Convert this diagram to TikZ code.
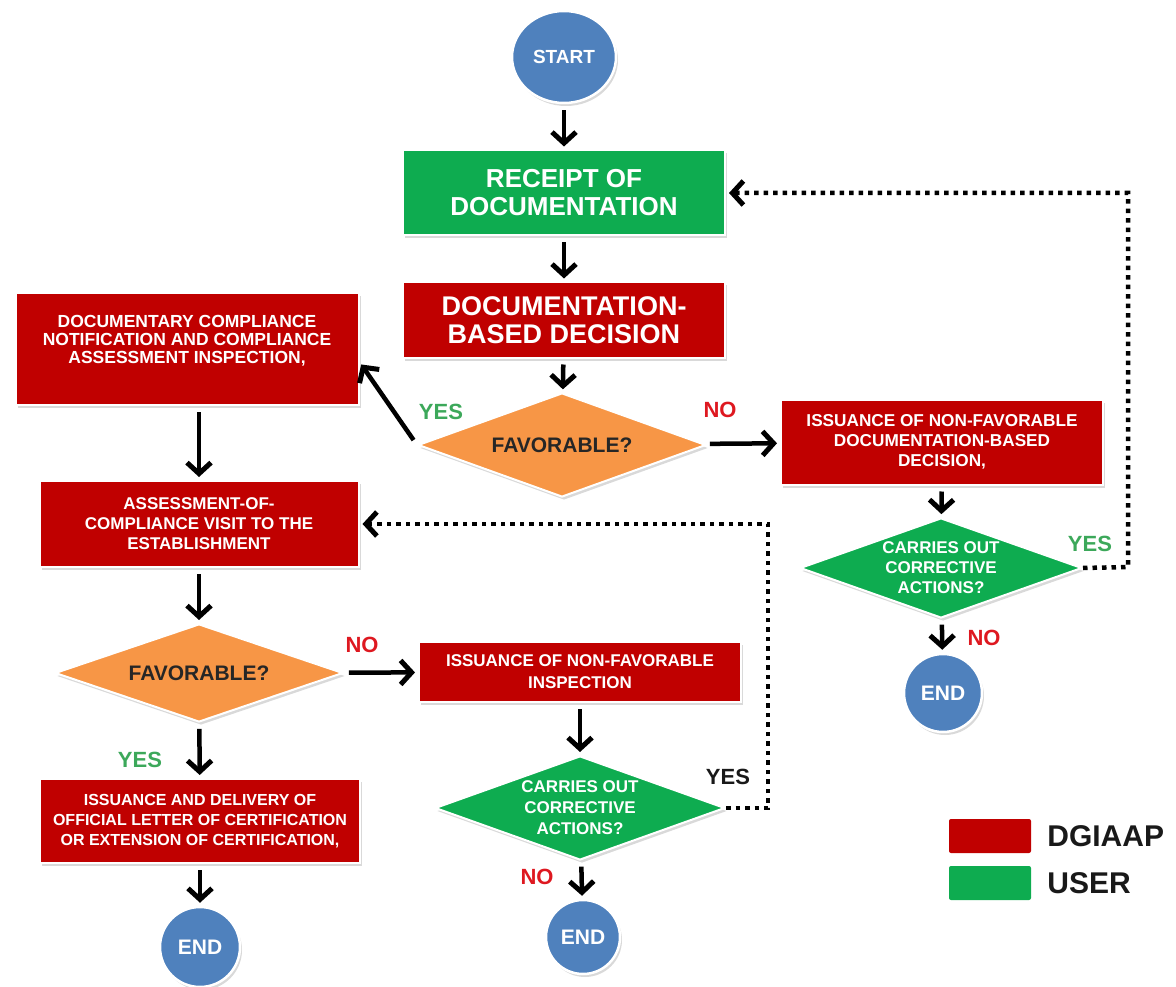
\documentclass[tikz,border=0pt]{standalone}
\usepackage{fontspec}
\setmainfont{Liberation Sans}
\usetikzlibrary{positioning, shapes, shadows, arrows.meta}
\definecolor{dgred}{RGB}{192,0,0}
\definecolor{usergreen}{RGB}{14,172,80}
\definecolor{askorange}{RGB}{247,150,70}
\definecolor{termblue}{RGB}{79,129,189}
\definecolor{yesgreen}{RGB}{60,168,90}
\definecolor{nored}{RGB}{222,24,32}
\newcommand{\txtsize}[2]{\fontsize{#1}{#2}\selectfont\bfseries}
\tikzset{proc/.style={rectangle,fill=dgred,draw=white,line width=2pt,text=white,align=center,inner sep=2pt,
    drop shadow={shadow xshift=2pt,shadow yshift=-3pt,opacity=.3}},
  userproc/.style={proc,fill=usergreen},
  ask/.style={diamond,aspect=2.9,inner sep=0pt,draw=white,line width=2pt,align=center,
    drop shadow={shadow xshift=2pt,shadow yshift=-3pt,opacity=.3}},
  term/.style={ellipse,fill=termblue,draw=white,line width=2.5pt,text=white,inner sep=0pt,
    drop shadow={shadow xshift=2pt,shadow yshift=-3pt,opacity=.3}},
  flow/.style={->,line width=4.5pt,shorten <=6pt,shorten >=3pt},
  back/.style={->,line width=4.5pt,dash pattern=on 4.5pt off 5pt,shorten >=3pt},
  yeslbl/.style={text=yesgreen,font=\txtsize{22}{24}},
  nolbl/.style={text=nored,font=\txtsize{22}{24}},
  legbox/.style={rectangle,rounded corners=2pt,minimum width=82pt,minimum height=34pt,inner sep=0pt}}

\begin{document}
\begin{tikzpicture}[x=1pt,y=-1pt,>={Straight Barb[length=11pt,width=24pt,line width=5pt]}]
		\useasboundingbox (0,0) rectangle (1176,987);
		% Main column
		\node[term, minimum width=104pt, minimum height=92pt, font=\txtsize{19}{22}] (start) at (564,57) {START};
		\node[userproc, minimum width=322pt, minimum height=85pt, font=\txtsize{26}{28}] (receipt) at (564,193) {RECEIPT OF\\DOCUMENTATION};
		\node[proc, minimum width=322pt, minimum height=75pt, font=\txtsize{27}{28}] (docdec) at (564,320) {DOCUMENTATION-\\BASED DECISION};
		\node[ask, fill=askorange, minimum width=288pt, minimum height=104pt, text={black!85}, font=\txtsize{21}{22}] (fav1) at (562,445) {FAVORABLE?};
		% Right branch
		\node[proc, minimum width=322pt, minimum height=85pt, font=\txtsize{17.2}{20}] (nfdoc) at (942,442) {ISSUANCE OF NON-FAVORABLE\\DOCUMENTATION-BASED\\DECISION,};
		\node[ask, fill=usergreen, minimum width=282pt, minimum height=100pt, text=white, font=\txtsize{17}{20}] (carry1) at (941,568) {CARRIES OUT\\CORRECTIVE\\ACTIONS?};
		\node[term, minimum size=78pt, font=\txtsize{21}{22}] (end1) at (943,693) {END};
		% Left column
		\node[proc, minimum width=343pt, minimum height=112pt, font=\txtsize{17.5}{18}] (dcn) at (187,349) {DOCUMENTARY COMPLIANCE\\NOTIFICATION AND COMPLIANCE\\ASSESSMENT INSPECTION,\\[2pt]\mbox{}};
		\node[proc, minimum width=319pt, minimum height=86pt, font=\txtsize{17}{20}] (visit) at (199,524) {ASSESSMENT-OF-\\COMPLIANCE VISIT TO THE\\ESTABLISHMENT};
		\node[ask, fill=askorange, minimum width=288pt, minimum height=98pt, text={black!85}, font=\txtsize{21}{22}] (fav2) at (199,673) {FAVORABLE?};
		\node[proc, minimum width=320pt, minimum height=84pt, font=\txtsize{16}{20}] (cert) at (200,821) {ISSUANCE AND DELIVERY OF\\OFFICIAL LETTER OF CERTIFICATION\\OR EXTENSION OF CERTIFICATION,};
		\node[term, minimum size=80pt, font=\txtsize{21}{22}] (end3) at (200,947) {END};
		% Middle branch
		\node[proc, minimum width=322pt, minimum height=60pt, font=\txtsize{17}{22}] (nfinsp) at (580,672) {ISSUANCE OF NON-FAVORABLE\\INSPECTION};
		\node[ask, fill=usergreen, minimum width=290pt, minimum height=104pt, text=white, font=\txtsize{17}{21}] (carry2) at (580,808) {CARRIES OUT\\CORRECTIVE\\ACTIONS?};
		\node[term, minimum size=74pt, font=\txtsize{21}{22}] (end2) at (583,937) {END};
		% Loop corners
		\coordinate (c1) at (1128,567);
		\coordinate (c2) at (768,808);
		% Connectors
		\draw[flow] (start) -- (receipt);
		\draw[flow] (receipt) -- (docdec);
		\draw[flow] (docdec) -- (fav1);
		\draw[flow] (fav1.west) -- ([yshift=-13pt]dcn.east);
		\draw[flow] (fav1) -- (nfdoc);
		\draw[flow] (nfdoc) -- (carry1);
		\draw[flow] (carry1) -- (end1);
		\draw[back] (carry1.east) -- (c1) |- (receipt.east);
		\draw[flow] (dcn.south -| visit.north) -- (visit.north);
		\draw[flow] (visit) -- (fav2);
		\draw[flow] (fav2) -- (nfinsp);
		\draw[flow] (fav2) -- (cert);
		\draw[flow] (cert) -- (end3);
		\draw[flow] (nfinsp) -- (carry2);
		\draw[flow] (carry2) -- (end2);
		\draw[back] (carry2.east) -- (c2) |- (visit.east);
		% Answers
		\node[yeslbl] (yes1) at (441,412) {YES};
		\node[nolbl] (no1) at (720,410) {NO};
		\node[yeslbl] (yes2) at (1090,544) {YES};
		\node[nolbl] (no2) at (984,638) {NO};
		\node[nolbl] (no3) at (362,645) {NO};
		\node[yeslbl] (yes3) at (140,760) {YES};
		\node[font=\txtsize{22}{24}, text={black!90}] (yes4) at (728,777) {YES};
		\node[nolbl] (no4) at (537,877) {NO};
		% Legend
		\node[legbox, fill=dgred] (lgred) at (990,836) {};
		\node[legbox, fill=usergreen] (lggreen) at (990,883) {};
		\node[right=16pt of lgred, inner sep=0pt, font=\txtsize{30}{32}, text={black!90}] (lgdgiaap) {DGIAAP};
		\node[right=16pt of lggreen, inner sep=0pt, font=\txtsize{30}{32}, text={black!90}] (lguser) {USER};
	\end{tikzpicture}
\end{document}
